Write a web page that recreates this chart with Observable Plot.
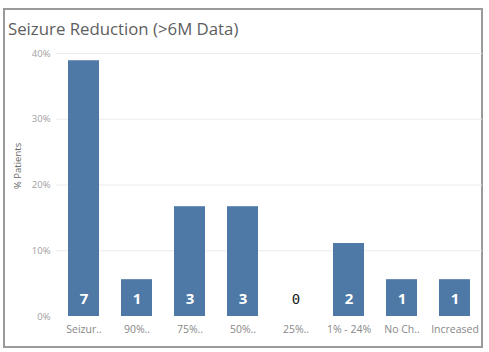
<!DOCTYPE html>
<html>
<head>
<meta charset="utf-8">
<script src="https://cdn.jsdelivr.net/npm/d3@7"></script>
<script src="https://cdn.jsdelivr.net/npm/@observablehq/plot@0.6"></script>
<style>
  body { margin: 0; background: #fff; width: 489px; height: 352px; position: relative; overflow: hidden; font-family: "Open Sans", sans-serif; }
  #frame { position: absolute; left: 3px; top: 8px; width: 476px; height: 336px; border: 2px solid #9a9a9a; }
  #title { position: absolute; left: 8px; top: 17px; font-size: 16.8px; color: #5e5e5e; font-family: "Open Sans", sans-serif; white-space: nowrap; }
  #chart { position: absolute; left: 0; top: 40px; }
</style>
</head>
<body>
<div id="frame"></div>
<div id="title">Seizure Reduction (&gt;6M Data)</div>
<div id="chart"></div>
<script>
const categories = ["Seizur..", "90%..", "75%..", "50%..", "25%..", "1% - 24%", "No Ch..", "Increased"];
const counts = [7, 1, 3, 3, 0, 2, 1, 1];
const percents = [38.9, 5.6, 16.7, 16.7, 0, 11.1, 5.6, 5.6];
const yTicks = [0, 10, 20, 30, 40];

const data = categories.map((c, i) => ({ cat: c, count: counts[i], pct: percents[i] }));

const chart = Plot.plot({
  width: 489,
  height: 310,
  marginLeft: 56,
  marginRight: 7,
  marginTop: 13,
  marginBottom: 34,
  style: { fontFamily: "Open Sans, sans-serif", background: "transparent" },
  x: { domain: categories, paddingInner: 0.42, paddingOuter: 0.21, label: null },
  y: { domain: [0, 40], label: null },
  marks: [
    Plot.gridY(yTicks.filter(d => d > 0), { stroke: "#ebebeb", strokeOpacity: 1 }),
    Plot.axisY(yTicks, { tickSize: 0, tickPadding: 6, tickFormat: d => d + "%", fontSize: 9.5, fill: "#a0a0a0", label: null }),
    Plot.axisX({ tickSize: 0, tickPadding: 9, fontSize: 10.5, fill: "#888", label: null }),
    Plot.text(["% Patients"], { frameAnchor: "left", dx: -39, dy: 4, rotate: -90, fontSize: 9.5, fill: "#666", letterSpacing: "0.5px" }),
    Plot.barY(data, { x: "cat", y: "pct", fill: "#4e79a7" }),
    Plot.text(data.filter(d => d.count > 0), { x: "cat", y: 0, text: d => String(d.count), dy: -17, fontSize: 15, fontWeight: "bold", fill: "#ffffff" }),
    Plot.text(data.filter(d => d.count === 0), { x: "cat", y: 0, text: d => String(d.count), dy: -17, fontSize: 14, fontFamily: "DejaVu Sans Mono, monospace", fill: "#222222" })
  ]
});
document.getElementById("chart").appendChild(chart);
</script>
</body>
</html>
